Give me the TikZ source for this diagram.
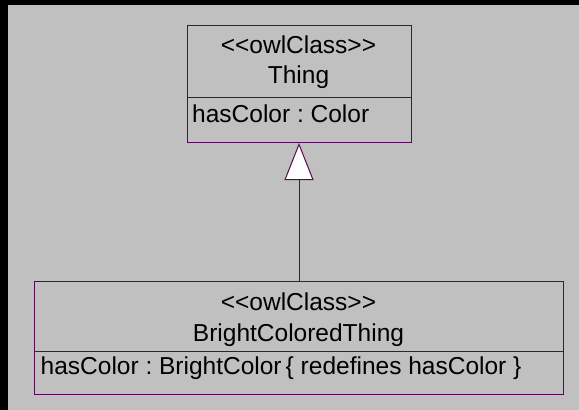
\documentclass[tikz,border=0pt]{standalone}
\usepackage{fontspec}
\setmainfont{Liberation Sans}
\usetikzlibrary{arrows.meta}
\definecolor{umlline}{RGB}{85,10,85}
\definecolor{bggray}{RGB}{192,192,192}
\newcommand{\stereo}[1]{<\kern0pt<#1>\kern0pt>}
\tikzset{
  comp/.style={draw=umlline, line width=1pt, rectangle, inner sep=0pt, anchor=north west},
  lbl/.style={inner sep=0pt, anchor=base, font=\fontsize{24.5}{29}\selectfont\frenchspacing},
  attr/.style={inner sep=0pt, anchor=base west, font=\fontsize{24.5}{29}\selectfont\frenchspacing},
  gen/.style={draw=umlline, line width=1pt, -{Triangle[width=29pt,length=37pt,fill=white]}}
}
\begin{document}
\begin{tikzpicture}[x=1pt,y=-1pt]
\useasboundingbox (0,0) rectangle (579,410);
\fill[black] (0,0) rectangle (579,410);
\fill[bggray] (8,5) rectangle (579,410);
% Thing
\node[comp, minimum width=224pt, minimum height=72pt] (thingH) at (186.5,25) {};
\node[comp, minimum width=224pt, minimum height=45pt] (thingA) at (186.5,97) {};
\node[lbl] (thingS) at (298.5,53) {\stereo{owlClass}};
\node[lbl] (thingN) at (298.5,83) {Thing};
\node[attr] (thingT) at (192,122) {hasColor : Color};
% BrightColoredThing
\node[comp, minimum width=528.5pt, minimum height=70pt] (bH) at (34.3,281) {};
\node[comp, minimum width=528.5pt, minimum height=43pt] (bA) at (34.3,351) {};
\node[lbl] (bS) at (298.5,310) {\stereo{owlClass}};
\node[lbl] (bN) at (298.5,341.5) {BrightColoredThing};
\node[attr] (bT) at (40.5,374) {hasColor : BrightColor\,\{ redefines hasColor \}};
% generalization
\draw[gen] (bH.north -| thingA.south) -- (thingA.south);
\end{tikzpicture}
\end{document}
